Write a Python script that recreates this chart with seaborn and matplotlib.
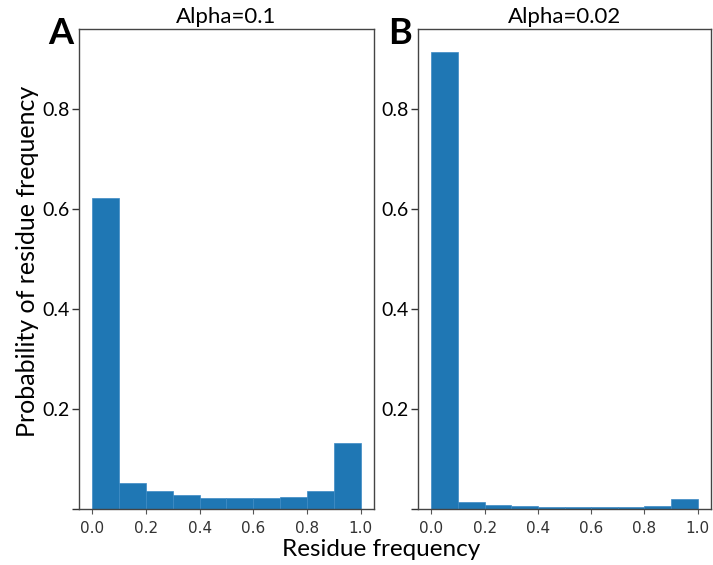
import numpy as np
import pandas as pd
import matplotlib
matplotlib.use("Agg")
import matplotlib.pyplot as plt
import seaborn as sns

# Histogram bins of residue frequency (10 equal bins on [0, 1])
bin_edges = [0.0, 0.1, 0.2, 0.3, 0.4, 0.5, 0.6, 0.7, 0.8, 0.9, 1.0]
bin_centers = [0.05, 0.15, 0.25, 0.35, 0.45, 0.55, 0.65, 0.75, 0.85, 0.95]

# Probability of each frequency bin
prob_alpha_01 = [0.622, 0.052, 0.036, 0.028, 0.023, 0.023, 0.023, 0.025, 0.036, 0.132]
prob_alpha_002 = [0.915, 0.014, 0.009, 0.007, 0.004, 0.004, 0.004, 0.004, 0.007, 0.021]

titles = ["Alpha=0.1", "Alpha=0.02"]
panel_letters = ["A", "B"]
x_ticks = [0.0, 0.2, 0.4, 0.6, 0.8, 1.0]
y_ticks = [0.0, 0.2, 0.4, 0.6, 0.8]
y_tick_labels = ["", "0.2", "0.4", "0.6", "0.8"]

sns.set_theme(style="white")
text_font = ["Lato", "DejaVu Sans"]
plt.rcParams["font.family"] = text_font
plt.rcParams["text.color"] = "black"

fig = plt.figure(figsize=(7.13, 5.65), dpi=100)
ax_a = fig.add_axes([0.1108, 0.0991, 0.4137, 0.8496])
ax_b = fig.add_axes([0.5863, 0.0991, 0.4110, 0.8496], sharey=ax_a)

bar_color = "#1f77b4"
for ax, probs, title, letter in zip([ax_a, ax_b], [prob_alpha_01, prob_alpha_002],
                                    titles, panel_letters):
    df = pd.DataFrame({"freq": bin_centers, "prob": probs})
    sns.histplot(data=df, x="freq", weights="prob", bins=bin_edges, ax=ax,
                 color=bar_color, alpha=1.0, edgecolor="#3d8ac4", linewidth=0.5)
    ax.set_xlabel("")
    ax.set_ylabel("")
    ax.set_title(title, fontsize=16, family=text_font, color="black", pad=4)
    ax.set_xticks(x_ticks)
    ax.set_xticklabels([f"{t:.1f}" for t in x_ticks], fontsize=11, color="#333333")
    for lbl in ax.get_xticklabels():
        lbl.set_fontfamily("DejaVu Sans")
    ax.set_yticks(y_ticks)
    ax.set_yticklabels(y_tick_labels, family=text_font, fontsize=14, color="black")
    ax.tick_params(axis="y", left=True, length=5, width=1, color="#333333", pad=2)
    ax.tick_params(axis="x", bottom=True, length=3.5, width=0.8, color="#555555", pad=5)
    for side in ["left", "right", "top", "bottom"]:
        ax.spines[side].set_visible(True)
        ax.spines[side].set_color("#444444")
        ax.spines[side].set_linewidth(1.0)
    ax.text(-0.02, 0.99, letter, transform=ax.transAxes, ha="right", va="center",
            fontsize=26, fontweight="bold", family=text_font, color="black")

ax_a.set_xlim(-0.05, 1.05)
ax_b.set_xlim(-0.05, 1.05)
ax_a.set_ylim(0, 0.961)

fig.text(0.535, 0.028, "Residue frequency", ha="center", va="center",
         fontsize=17.5, family=text_font, color="black")
fig.text(0.038, 0.538, "Probability of residue frequency", ha="center", va="center",
         rotation=90, fontsize=18, family=text_font, color="black")

fig.savefig("out.png", dpi=100)
